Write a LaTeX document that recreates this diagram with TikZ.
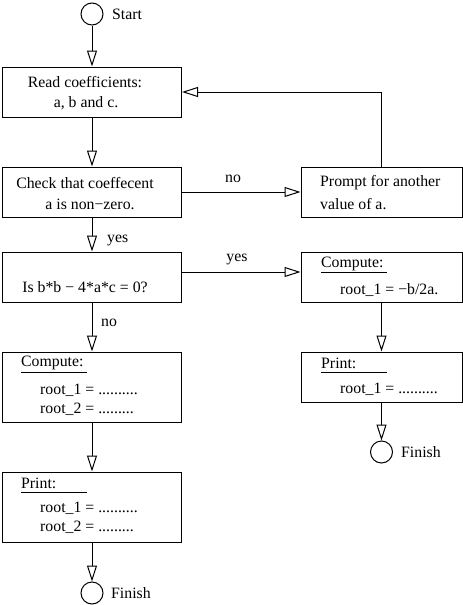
\documentclass[tikz,border=0pt]{standalone}
\usepackage{fontspec}
\setmainfont{Liberation Serif}
\usetikzlibrary{arrows.meta}
\begin{document}
\begin{tikzpicture}[x=1pt,y=-1pt,
  box/.style={draw, line width=1pt, minimum width=179pt, minimum height=50pt, inner sep=0pt},
  rbox/.style={box, minimum width=161pt},
  circ/.style={draw, circle, line width=1pt, minimum size=22pt, inner sep=0pt},
  arr/.style={line width=1pt, -{Triangle[open, length=16pt, width=10pt, line width=1pt]}},
  txt/.style={inner sep=0pt, font=\fontsize{15.8}{19}\selectfont},
  ltxt/.style={txt, anchor=west},
  uline/.style={line width=0.9pt}]
\useasboundingbox (0,0) rectangle (463,605);

% left column
\node[circ] (start) at (92,14) {};
\node[ltxt] (startlbl) at (112,14) {Start};

\node[box] (b1) at (92,92) {};
\node[txt] (b1a) at (85,82) {Read coefficients:};
\node[txt] (b1b) at (86,103) {a, b and c.};

\node[box] (b2) at (92,192) {};
\node[txt] (b2a) at (85,183) {Check that coeffecent};
\node[txt] (b2b) at (90,204) {a is non−zero.};

\node[box] (b4) at (92,277) {};
\node[txt] (b4a) at (85,287) {Is b*b − 4*a*c = 0?};

\node[box, minimum height=70pt] (b7) at (92,387) {};
\node[ltxt] (b7a) at (21,363) {Compute:};
\draw[uline] (21,372) -- (87,372);
\node[ltxt] (b7b) at (40,390) {root\_1 = ..........};
\node[ltxt] (b7c) at (40,409) {root\_2 = .........};

\node[box, minimum height=70pt] (b8) at (92,507) {};
\node[ltxt] (b8a) at (21,483) {Print:};
\draw[uline] (21,492) -- (87,492);
\node[ltxt] (b8b) at (40,508) {root\_1 = ..........};
\node[ltxt] (b8c) at (40,527) {root\_2 = .........};

\node[circ] (fin1) at (92,593) {};
\node[ltxt] (fin1lbl) at (111,593) {Finish};

% right column
\node[rbox] (b3) at (381.5,192) {};
\node[ltxt] (b3a) at (320,183) {Prompt for another};
\node[ltxt] (b3b) at (320,204) {value of a.};

\node[rbox] (b5) at (381.5,277) {};
\node[ltxt] (b5a) at (321,264) {Compute:};
\draw[uline] (321,272) -- (387,272);
\node[ltxt] (b5b) at (340,290) {root\_1 = −b/2a.};

\node[rbox] (b6) at (381.5,377) {};
\node[ltxt] (b6a) at (321,363) {Print:};
\draw[uline] (321,372) -- (387,372);
\node[ltxt] (b6b) at (340,389) {root\_1 = ..........};

\node[circ] (fin2) at (381.5,452) {};
\node[ltxt] (fin2lbl) at (401,452) {Finish};

% connectors
\draw[arr] (start.south) -- (b1.north);
\draw[arr] (b1.south) -- (b2.north);
\draw[arr] (b2.east) -- (b3.west);
\node[txt] (lno1) at (233,179) {no};
\draw[arr] (b3.north) |- (b1.east);
\draw[arr] (b2.south) -- (b4.north);
\node[ltxt] (lyes1) at (107,240) {yes};
\draw[arr] ([yshift=5pt]b4.east) -- ([yshift=5pt]b5.west);
\node[txt] (lyes2) at (237,259) {yes};
\draw[arr] (b4.south) -- (b7.north);
\node[ltxt] (lno2) at (101,323) {no};
\draw[arr] (b7.south) -- (b8.north);
\draw[arr] (b8.south) -- (fin1.north);
\draw[arr] (b5.south) -- (b6.north);
\draw[arr] (b6.south) -- (fin2.north);
\end{tikzpicture}
\end{document}
